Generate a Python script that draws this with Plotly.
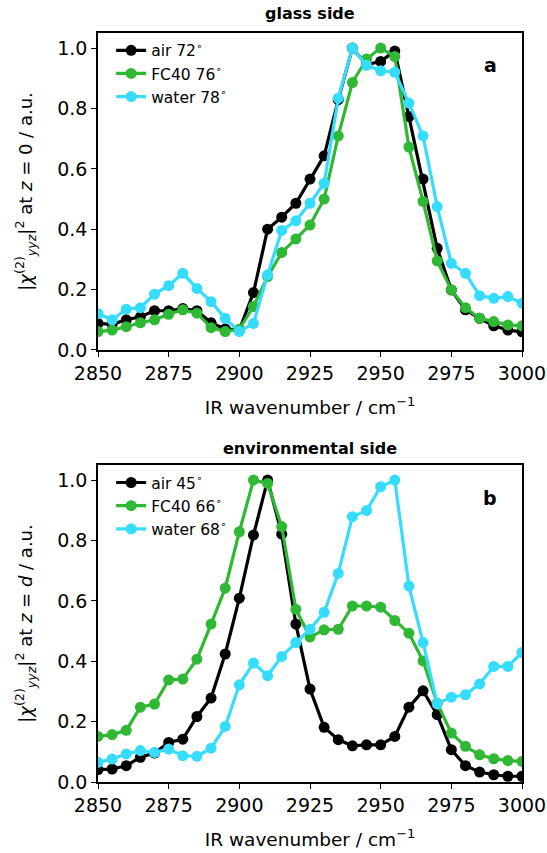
import plotly.graph_objects as go

wavenumber = list(range(2850, 3001, 5))

# glass side (z = 0)
air_glass = [0.088, 0.085, 0.10, 0.11, 0.13, 0.13, 0.137, 0.13, 0.09, 0.07, 0.066, 0.19, 0.40, 0.44, 0.486,
             0.566, 0.643, 0.829, 1.0, 0.945, 0.956, 0.99, 0.773, 0.566, 0.337, 0.199, 0.133, 0.105, 0.08, 0.066, 0.06]
fc40_glass = [0.061, 0.066, 0.077, 0.09, 0.10, 0.118, 0.133, 0.122, 0.074, 0.061, 0.069, 0.144, 0.243, 0.323, 0.368,
              0.414, 0.50, 0.709, 0.886, 0.964, 1.0, 0.972, 0.672, 0.492, 0.295, 0.199, 0.14, 0.105, 0.094, 0.083, 0.08]
water_glass = [0.12, 0.10, 0.135, 0.14, 0.185, 0.213, 0.254, 0.204, 0.16, 0.105, 0.061, 0.088, 0.249, 0.396, 0.428,
               0.486, 0.552, 0.834, 1.0, 0.943, 0.925, 0.92, 0.818, 0.709, 0.475, 0.287, 0.254, 0.18, 0.171, 0.177, 0.155]

# environmental side (z = d)
air_env = [0.041, 0.043, 0.054, 0.082, 0.096, 0.131, 0.142, 0.217, 0.278, 0.424, 0.609, 0.818, 1.0, 0.821, 0.523,
           0.308, 0.181, 0.14, 0.12, 0.123, 0.123, 0.151, 0.248, 0.302, 0.223, 0.107, 0.054, 0.033, 0.024, 0.019, 0.019]
fc40_env = [0.151, 0.157, 0.171, 0.248, 0.258, 0.338, 0.341, 0.407, 0.523, 0.642, 0.829, 1.0, 0.989, 0.846, 0.572,
            0.48, 0.504, 0.506, 0.583, 0.583, 0.579, 0.535, 0.493, 0.401, 0.261, 0.162, 0.118, 0.09, 0.077, 0.071, 0.068]
water_env = [0.065, 0.076, 0.093, 0.104, 0.098, 0.109, 0.087, 0.085, 0.112, 0.184, 0.322, 0.394, 0.352, 0.416, 0.462,
             0.506, 0.562, 0.691, 0.879, 0.899, 0.978, 1.0, 0.649, 0.462, 0.259, 0.281, 0.289, 0.325, 0.383, 0.383, 0.429]

glass_names = ["air 72<sup>∘</sup>", "FC40 76<sup>∘</sup>", "water 78<sup>∘</sup>"]
env_names = ["air 45<sup>∘</sup>", "FC40 66<sup>∘</sup>", "water 68<sup>∘</sup>"]
colors = ["#000000", "#2fb834", "#36dcfc"]
x_ticks = [2850, 2875, 2900, 2925, 2950, 2975, 3000]
y_ticks = [0.0, 0.2, 0.4, 0.6, 0.8, 1.0]

FONT = "DejaVu Sans"
fig = go.Figure()

for name, ys, c in zip(glass_names, [air_glass, fc40_glass, water_glass], colors):
    fig.add_trace(go.Scatter(x=wavenumber, y=ys, name=name, mode="lines+markers",
                             line=dict(color=c, width=3.2), marker=dict(color=c, size=11),
                             xaxis="x", yaxis="y", legend="legend"))
for name, ys, c in zip(env_names, [air_env, fc40_env, water_env], colors):
    fig.add_trace(go.Scatter(x=wavenumber, y=ys, name=name, mode="lines+markers",
                             line=dict(color=c, width=3.2), marker=dict(color=c, size=11),
                             xaxis="x2", yaxis="y2", legend="legend2"))

axis_common = dict(showline=True, linecolor="black", linewidth=1.6, mirror=True,
                   ticks="outside", ticklen=5, tickwidth=1.4, tickcolor="black",
                   showgrid=False, zeroline=False, automargin=False,
                   tickfont=dict(family=FONT, size=19, color="black"))

xt = dict(range=[2850, 3000], tickvals=x_ticks, ticktext=[str(v) for v in x_ticks],
          title=dict(text="IR wavenumber / cm<sup>−1</sup>", font=dict(family=FONT, size=18.5, color="black"), standoff=18),
          **axis_common)
ytick = dict(range=[0, 1.05], tickvals=y_ticks, ticktext=[f"{v:.1f}" for v in y_ticks], **axis_common)

fig.update_layout(
    width=547, height=853,
    margin=dict(l=98, r=25, t=33, b=71),
    paper_bgcolor="white", plot_bgcolor="white",
    font=dict(family=FONT, color="black"),
    xaxis=dict(domain=[0, 1], anchor="y", **xt),
    yaxis=dict(domain=[0.5768, 1.0], anchor="x",
               title=dict(text="|<i>χ</i><sup>(2)</sup><sub><i>yyz</i></sub>|<sup>2</sup> at <i>z</i> = 0 / a.u.",
                          font=dict(family=FONT, size=18, color="black"), standoff=20),
               **ytick),
    xaxis2=dict(domain=[0, 1], anchor="y2", **xt),
    yaxis2=dict(domain=[0.0, 0.4232], anchor="x2",
                title=dict(text="|<i>χ</i><sup>(2)</sup><sub><i>yyz</i></sub>|<sup>2</sup> at <i>z</i> = <i>d</i> / a.u.",
                           font=dict(family=FONT, size=18, color="black"), standoff=20),
                **ytick),
    legend=dict(x=0.031, y=0.999, xanchor="left", yanchor="top", bgcolor="rgba(0,0,0,0)",
                font=dict(family=FONT, size=15.5, color="black"), tracegroupgap=0, itemwidth=30),
    legend2=dict(x=0.031, y=0.422, xanchor="left", yanchor="top", bgcolor="rgba(0,0,0,0)",
                 font=dict(family=FONT, size=15.5, color="black"), tracegroupgap=0, itemwidth=30),
    annotations=[
        dict(text="<b>glass side</b>", xref="paper", yref="paper", x=0.5, y=1.0267, xanchor="center",
             yanchor="middle", showarrow=False, font=dict(family=FONT, size=16, color="black")),
        dict(text="<b>environmental side</b>", xref="paper", yref="paper", x=0.5, y=0.4446, xanchor="center",
             yanchor="middle", showarrow=False, font=dict(family=FONT, size=16, color="black")),
        dict(text="<b>a</b>", xref="paper", yref="paper", x=0.925, y=0.957, xanchor="center",
             yanchor="middle", showarrow=False, font=dict(family=FONT, size=19, color="black")),
        dict(text="<b>b</b>", xref="paper", yref="paper", x=0.925, y=0.379, xanchor="center",
             yanchor="middle", showarrow=False, font=dict(family=FONT, size=19, color="black")),
    ],
)

fig.write_html("out.html", config={"displayModeBar": False},
               post_script="document.body.style.margin='0';document.body.style.overflow='hidden';")
